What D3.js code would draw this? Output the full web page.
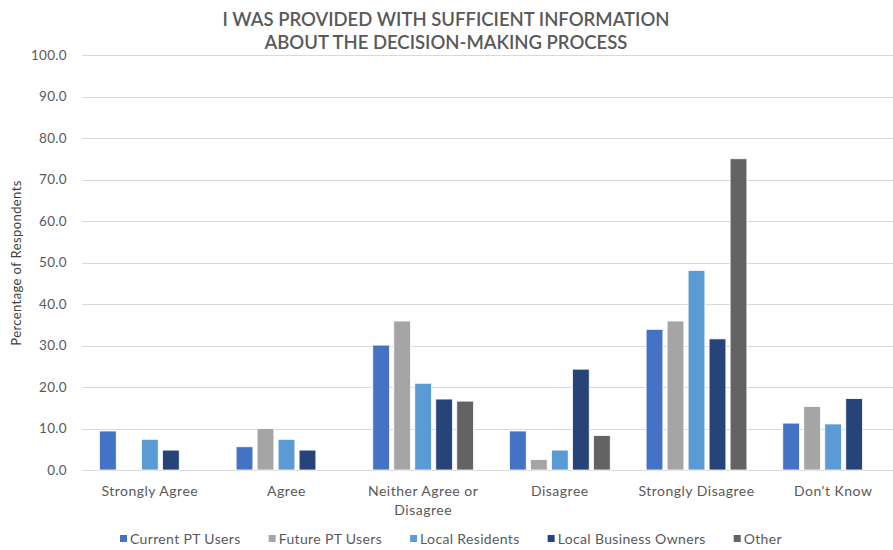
<!DOCTYPE html>
<html>
<head>
<meta charset="utf-8">
<script src="https://cdn.jsdelivr.net/npm/d3@7"></script>
<style>
  html, body { margin: 0; padding: 0; background: #fff; }
  svg { display: block; font-family: Lato, "Open Sans", sans-serif; }
</style>
</head>
<body>
<svg id="chart" width="893" height="550"></svg>
<script>
// Survey responses by respondent group (percent)
const categories = ["Strongly Agree", "Agree", "Neither Agree or Disagree", "Disagree", "Strongly Disagree", "Don't Know"];
const categoryLines = [["Strongly Agree"], ["Agree"], ["Neither Agree or", "Disagree"], ["Disagree"], ["Strongly Disagree"], ["Don't Know"]];
const seriesNames = ["Current PT Users", "Future PT Users", "Local Residents", "Local Business Owners", "Other"];
const currentPT  = [9.4, 5.6, 30.1, 9.4, 33.9, 11.3];
const futurePT   = [0.0, 10.0, 35.9, 2.5, 35.9, 15.3];
const residents  = [7.4, 7.4, 20.9, 4.8, 48.1, 11.1];
const business   = [4.8, 4.8, 17.1, 24.3, 31.6, 17.2];
const other      = [0.0, 0.0, 16.6, 8.3, 75.0, 0.0];
const yTicks = [0, 10, 20, 30, 40, 50, 60, 70, 80, 90, 100];
const seriesColors = ["#4472C4", "#A5A5A5", "#5B9BD5", "#264478", "#636363"];

const seriesValues = [currentPT, futurePT, residents, business, other];
const svg = d3.select("#chart");

const plot = { left: 82, top: 55, bottom: 470 };
const x = d3.scaleBand().domain(categories).range([81.5, 901.5]).paddingInner(0).paddingOuter(0);
const xs = d3.scaleBand().domain(seriesNames).range([0, x.bandwidth()]).paddingInner(0.2).paddingOuter(0.854);
const y = d3.scaleLinear().domain([0, 100]).range([plot.bottom, plot.top]);

// Title
const title = svg.append("text")
  .attr("x", 446).attr("text-anchor", "middle")
  .attr("fill", "#595959").attr("font-size", 18.5).attr("font-weight", 600);
title.append("tspan").attr("x", 446).attr("y", 26).text("I WAS PROVIDED WITH SUFFICIENT INFORMATION");
title.append("tspan").attr("x", 446).attr("y", 49).text("ABOUT THE DECISION-MAKING PROCESS");

// Gridlines
svg.append("g").selectAll("line").data(yTicks).join("line")
  .attr("x1", plot.left).attr("x2", 893)
  .attr("y1", d => Math.round(y(d)) + 0.5).attr("y2", d => Math.round(y(d)) + 0.5)
  .attr("stroke", "#d9d9d9").attr("stroke-width", 1);

// Y axis labels
const yAxis = svg.append("g").attr("transform", "translate(67,0)")
  .call(d3.axisLeft(y).tickValues(yTicks).tickFormat(d3.format(".1f")).tickSize(0).tickPadding(0));
yAxis.select(".domain").remove();
yAxis.selectAll("text").attr("fill", "#595959").attr("font-size", 13.5)
  .attr("letter-spacing", 0.3)
  .attr("font-family", "Lato, 'Open Sans', sans-serif");

// Y axis title
svg.append("text")
  .attr("transform", "translate(21,263) rotate(-90)")
  .attr("text-anchor", "middle").attr("fill", "#404040").attr("font-size", 13)
  .attr("letter-spacing", 0.4)
  .text("Percentage of Respondents");

// Bars
const groups = svg.append("g").selectAll("g").data(categories).join("g")
  .attr("transform", d => `translate(${x(d)},0)`);
groups.selectAll("rect")
  .data((c, ci) => seriesNames.map((s, si) => ({ s, si, v: seriesValues[si][ci] })))
  .join("rect")
  .attr("x", d => xs(d.s))
  .attr("width", xs.bandwidth())
  .attr("y", d => y(d.v))
  .attr("height", d => y(0) - y(d.v))
  .attr("fill", d => seriesColors[d.si])
  .attr("stroke", "#fff").attr("stroke-width", 0.8)
  .attr("display", d => d.v > 0 ? null : "none");

// Category labels
const xl = svg.append("g").selectAll("text").data(categories).join("text")
  .attr("text-anchor", "middle").attr("fill", "#595959").attr("font-size", 14)
  .attr("letter-spacing", 0.5);
xl.each(function(d, i) {
  const t = d3.select(this);
  categoryLines[i].forEach((line, li) => {
    t.append("tspan").attr("x", x(d) + x.bandwidth() / 2).attr("y", 496 + li * 19).text(line);
  });
});

// Legend
const legend = svg.append("g");
let lx = 120;
seriesNames.forEach((name, i) => {
  legend.append("rect").attr("x", lx).attr("y", 535).attr("width", 7).attr("height", 7).attr("fill", seriesColors[i]);
  const t = legend.append("text").attr("x", lx + 10).attr("y", 543.5)
    .attr("fill", "#595959").attr("font-size", 14).attr("letter-spacing", 0.35).text(name);
  lx += 10 + t.node().getComputedTextLength() + 28;
});
</script>
</body>
</html>
